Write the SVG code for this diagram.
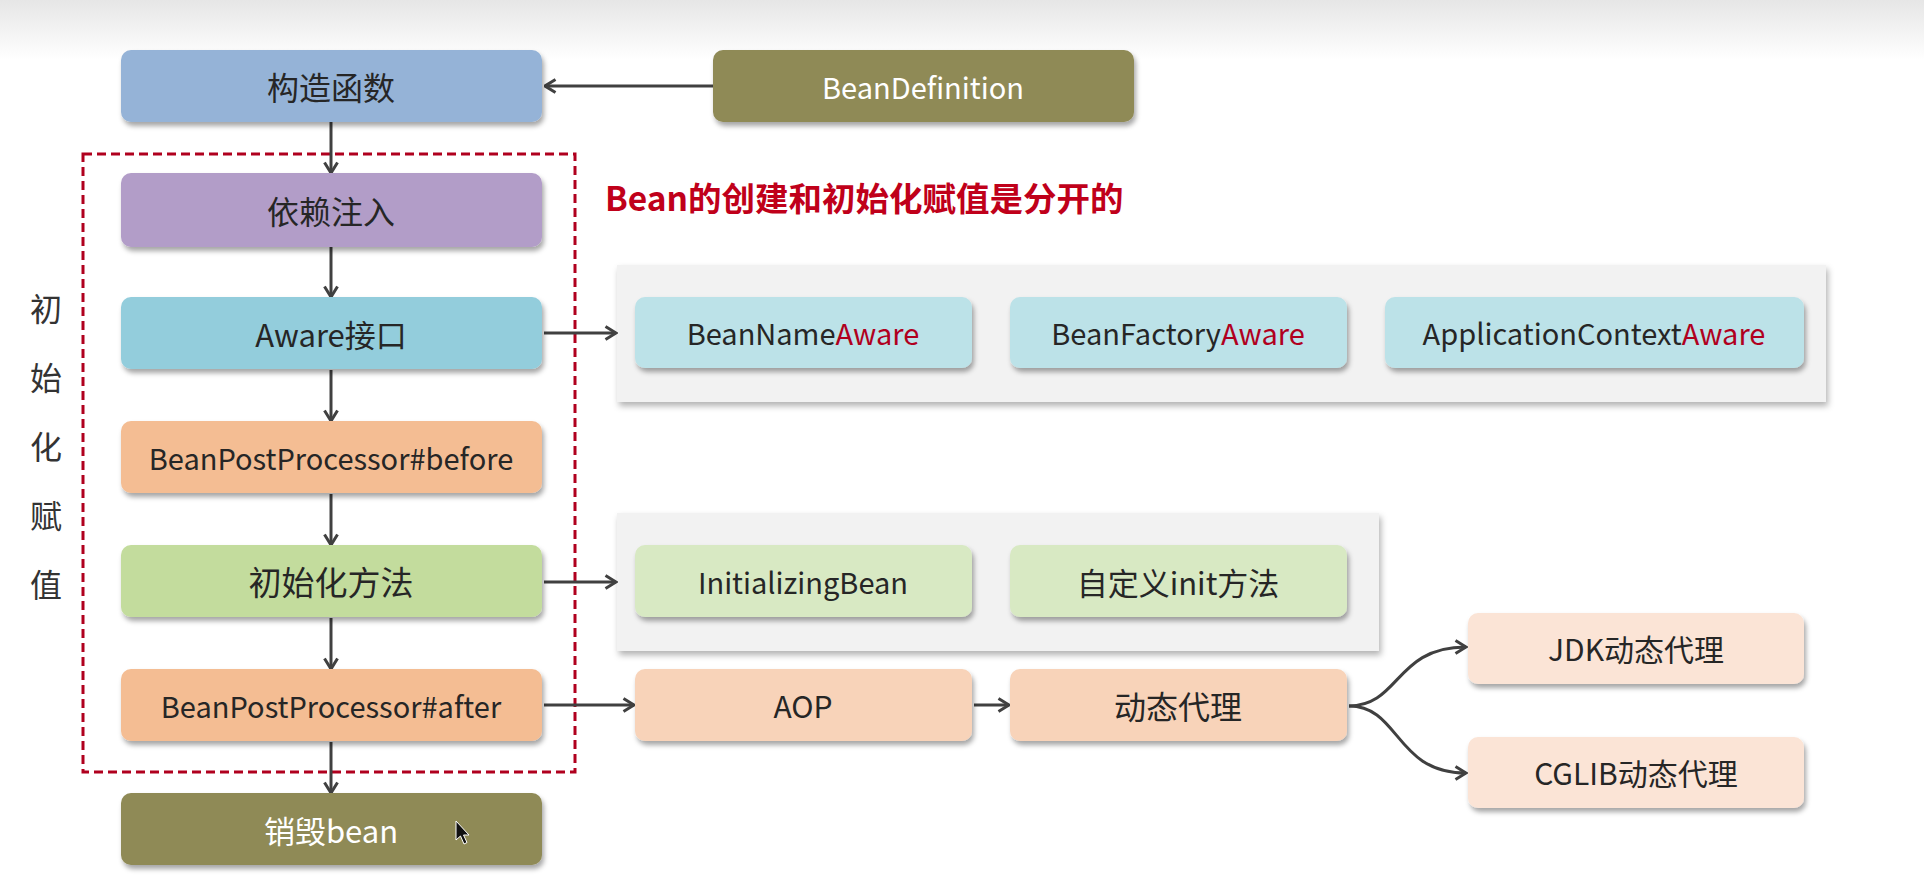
<svg xmlns="http://www.w3.org/2000/svg" width="1924" height="895" viewBox="0 0 1924 895">
<defs>
<style>
.t{font-family:"Noto Sans CJK SC","Noto Sans",sans-serif;fill:#262626;text-anchor:middle;dominant-baseline:central}
.w{fill:#ffffff}
.red{fill:#b0001e}
.side{font-family:"Noto Sans CJK SC","Noto Sans",sans-serif;fill:#333333;text-anchor:middle;dominant-baseline:central;font-size:32px}
.conn{fill:none;stroke:#404040;stroke-width:3}
.box{filter:url(#sh)}
</style>
<linearGradient id="topg" x1="0" y1="0" x2="0" y2="1">
<stop offset="0" stop-color="#e6e6e6"/>
<stop offset="1" stop-color="#ffffff"/>
</linearGradient>
<filter id="sh" x="-10%" y="-20%" width="125%" height="160%">
<feDropShadow dx="2" dy="4" stdDeviation="2.5" flood-color="#000" flood-opacity="0.35"/>
</filter>
<filter id="psh" x="-5%" y="-10%" width="110%" height="130%">
<feDropShadow dx="2" dy="4" stdDeviation="3" flood-color="#000" flood-opacity="0.3"/>
</filter>
<marker id="ah" viewBox="0 0 14 16" refX="12.5" refY="8" markerWidth="14" markerHeight="16" markerUnits="userSpaceOnUse" orient="auto">
<path d="M2,1.5 L12.5,8 L2,14.5" fill="none" stroke="#404040" stroke-width="3" stroke-linejoin="miter"/>
</marker>
</defs>
<rect x="0" y="0" width="1924" height="895" fill="#ffffff"/>
<rect x="0" y="0" width="1924" height="60" fill="url(#topg)"/>

<!-- panels -->
<g id="aware-panel"><rect x="617" y="265" width="1209" height="137" fill="#f2f2f2" filter="url(#psh)"/></g>
<g id="init-panel"><rect x="617" y="513" width="762" height="138" fill="#f2f2f2" filter="url(#psh)"/></g>

<!-- dashed frame -->
<g id="init-frame"><rect x="83" y="154" width="492" height="618" fill="none" stroke="#b0001e" stroke-width="3" stroke-dasharray="9,5"/></g>

<!-- side label -->
<g id="side-label">
<text x="46" y="307" class="side">初</text>
<text x="46" y="376" class="side">始</text>
<text x="46" y="445" class="side">化</text>
<text x="46" y="514" class="side">赋</text>
<text x="46" y="583" class="side">值</text>
</g>

<!-- title -->
<g id="title"><text x="605" y="196" font-family="Noto Sans CJK SC, sans-serif" font-weight="bold" font-size="33.5" fill="#c0001a" dominant-baseline="central">Bean的创建和初始化赋值是分开的</text></g>

<!-- connectors -->
<g id="connectors">
<line class="conn" x1="713" y1="86" x2="545" y2="86" marker-end="url(#ah)"/>
<line class="conn" x1="331" y1="122" x2="331" y2="173" marker-end="url(#ah)"/>
<line class="conn" x1="331" y1="247" x2="331" y2="297" marker-end="url(#ah)"/>
<line class="conn" x1="331" y1="370" x2="331" y2="421" marker-end="url(#ah)"/>
<line class="conn" x1="331" y1="494" x2="331" y2="545" marker-end="url(#ah)"/>
<line class="conn" x1="331" y1="618" x2="331" y2="669" marker-end="url(#ah)"/>
<line class="conn" x1="331" y1="742" x2="331" y2="793" marker-end="url(#ah)"/>
<line class="conn" x1="544" y1="333" x2="616" y2="333" marker-end="url(#ah)"/>
<line class="conn" x1="544" y1="582" x2="616" y2="582" marker-end="url(#ah)"/>
<line class="conn" x1="544" y1="705" x2="634" y2="705" marker-end="url(#ah)"/>
<line class="conn" x1="974" y1="705" x2="1009" y2="705" marker-end="url(#ah)"/>
<path class="conn" d="M1349,706 C1400,706 1395,647 1466,647" marker-end="url(#ah)"/>
<path class="conn" d="M1349,706 C1400,706 1395,773 1466,773" marker-end="url(#ah)"/>
</g>

<!-- left column -->
<g id="constructor"><rect class="box" x="121" y="50" width="421" height="72" rx="10" fill="#95b3d7"/><text class="t" x="331" y="86" font-size="32">构造函数</text></g>
<g id="di"><rect class="box" x="121" y="173" width="421" height="74" rx="10" fill="#b29dc8"/><text class="t" x="331" y="210" font-size="32">依赖注入</text></g>
<g id="aware"><rect class="box" x="121" y="297" width="421" height="72" rx="10" fill="#93cddc"/><text class="t" x="331" y="333" font-size="31">Aware接口</text></g>
<g id="bpp-before"><rect class="box" x="121" y="421" width="421" height="72" rx="10" fill="#f4bd93"/><text class="t" x="331" y="457" font-size="29">BeanPostProcessor#before</text></g>
<g id="init-method"><rect class="box" x="121" y="545" width="421" height="72" rx="10" fill="#c3dc9d"/><text class="t" x="331" y="581" font-size="33">初始化方法</text></g>
<g id="bpp-after"><rect class="box" x="121" y="669" width="421" height="72" rx="10" fill="#f4bd93"/><text class="t" x="331" y="705" font-size="29">BeanPostProcessor#after</text></g>
<g id="destroy"><rect class="box" x="121" y="793" width="421" height="72" rx="10" fill="#8f8a56"/><text class="t w" x="331" y="829" font-size="31">销毁bean</text></g>

<g id="bean-definition"><rect class="box" x="713" y="50" width="421" height="72" rx="10" fill="#8f8a56"/><text class="t w" x="923" y="86" font-size="29">BeanDefinition</text></g>

<!-- aware children -->
<g id="bean-name-aware"><rect class="box" x="635" y="297" width="337" height="71" rx="10" fill="#bce2e8"/><text class="t" x="803" y="332" font-size="29">BeanName<tspan class="red">Aware</tspan></text></g>
<g id="bean-factory-aware"><rect class="box" x="1010" y="297" width="337" height="71" rx="10" fill="#bce2e8"/><text class="t" x="1178" y="332" font-size="29">BeanFactory<tspan class="red">Aware</tspan></text></g>
<g id="app-context-aware"><rect class="box" x="1385" y="297" width="419" height="71" rx="10" fill="#bce2e8"/><text class="t" x="1594" y="332" font-size="29">ApplicationContext<tspan class="red">Aware</tspan></text></g>

<!-- init children -->
<g id="initializing-bean"><rect class="box" x="635" y="545" width="337" height="72" rx="10" fill="#d8e9c3"/><text class="t" x="803" y="581" font-size="29">InitializingBean</text></g>
<g id="custom-init"><rect class="box" x="1010" y="545" width="337" height="72" rx="10" fill="#d8e9c3"/><text class="t" x="1178" y="581" font-size="31">自定义init方法</text></g>

<!-- aop chain -->
<g id="aop"><rect class="box" x="635" y="669" width="337" height="72" rx="10" fill="#f8d3b9"/><text class="t" x="803" y="705" font-size="30">AOP</text></g>
<g id="dynamic-proxy"><rect class="box" x="1010" y="669" width="337" height="72" rx="10" fill="#f8d3b9"/><text class="t" x="1178" y="705" font-size="32">动态代理</text></g>
<g id="jdk-proxy"><rect class="box" x="1468" y="613" width="336" height="71" rx="10" fill="#fbe4d6"/><text class="t" x="1636" y="648" font-size="30">JDK动态代理</text></g>
<g id="cglib-proxy"><rect class="box" x="1468" y="737" width="336" height="71" rx="10" fill="#fbe4d6"/><text class="t" x="1636" y="772" font-size="30">CGLIB动态代理</text></g>

<!-- mouse cursor -->
<path d="M456,821 L456,840 L460.5,836 L464,844 L467,842.5 L463.5,835 L469,835 Z" fill="#111" stroke="#fff" stroke-width="1"/>
</svg>
